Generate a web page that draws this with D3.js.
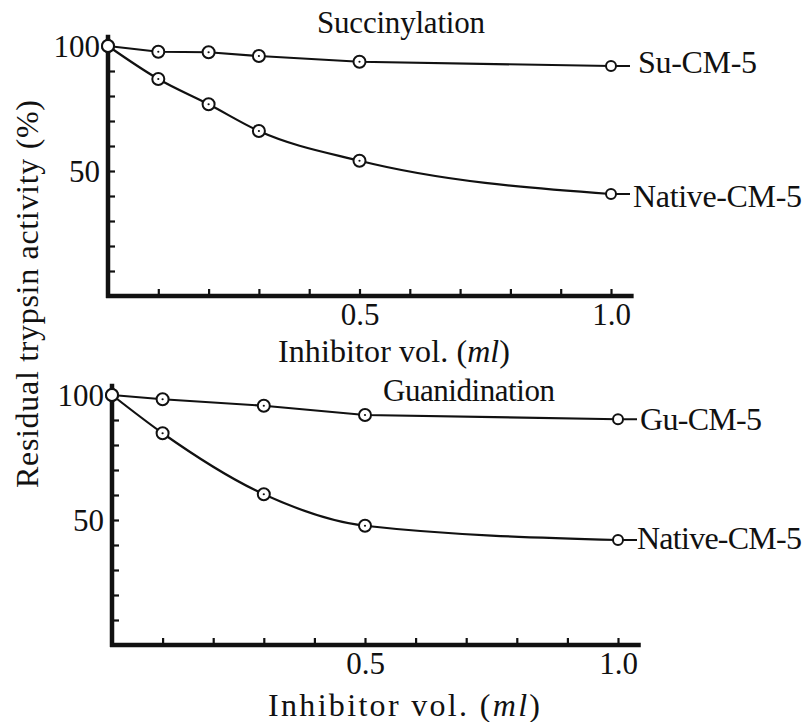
<!DOCTYPE html>
<html>
<head>
<meta charset="utf-8">
<script src="https://cdn.jsdelivr.net/npm/d3@7"></script>
<style>
  body { margin: 0; background: #fff; }
  svg text { font-family: "Liberation Serif", "Times New Roman", Times, serif; fill: #111; }
</style>
</head>
<body>
<div id="wrapper"></div>
<script>
// inhibitor volume (ml)
const succX = [0, 0.1, 0.2, 0.3, 0.5, 1.0];
const suValues = [100, 97.7, 97.5, 96, 93.7, 92];
const nativeSuValues = [100, 86.8, 76.7, 66, 54.1, 40.8];

const guanX = [0, 0.1, 0.3, 0.5, 1.0];
const guValues = [100, 98.3, 95.7, 92, 90.3];
const nativeGuValues = [100, 84.7, 60.3, 47.7, 42];

const xTickLabels = [0.5, 1.0];
const yTickLabels = [50, 100];
const xMinorTicks = d3.range(1, 11).map(d => d / 10);
const yMinorTicks = d3.range(1, 11).map(d => d * 10);

const W = 806, H = 722;
const serif = '"Liberation Serif", "Times New Roman", Times, serif';

let svg = d3.select('#wrapper').append('svg')
  .attr('width', W).attr('height', H)
  .attr('viewBox', '0 0 ' + W + ' ' + H);

function panel(opt) {
  let x = d3.scaleLinear().domain([0, 1]).range(opt.xRange);
  let y = d3.scaleLinear().domain([0, 100]).range(opt.yRange);
  let g = svg.append('g');

  // y ticks (inside), labels only at 50 / 100
  let yAxis = d3.axisLeft(y)
    .tickValues(yMinorTicks)
    .tickSize(-7)
    .tickPadding(8)
    .tickFormat(d => yTickLabels.includes(d) ? d : '');
  let ya = g.append('g').attr('transform', 'translate(' + x(0) + ',0)').call(yAxis);
  ya.attr('font-family', null).attr('font-size', null);
  ya.select('.domain').remove();
  ya.selectAll('line').attr('stroke', '#111').attr('stroke-width', 2.2);
  ya.selectAll('text').style('font-size', '31px').attr('dy', '0.34em')
    .style('font-family', serif);

  let xAxis = d3.axisBottom(x)
    .tickValues(xMinorTicks)
    .tickSize(-7)
    .tickPadding(10)
    .tickFormat(d => xTickLabels.includes(d) ? d.toFixed(1) : '');
  let xa = g.append('g').attr('transform', 'translate(0,' + y(0) + ')').call(xAxis);
  xa.attr('font-family', null).attr('font-size', null);
  xa.select('.domain').remove();
  xa.selectAll('line').attr('stroke', '#111').attr('stroke-width', 2.2);
  xa.selectAll('text').style('font-size', '31px').attr('dy', '0.62em')
    .style('font-family', serif);

  // thick axis lines
  g.append('line')
    .attr('x1', x(0)).attr('x2', x(0))
    .attr('y1', y(0) + 2).attr('y2', y(104.5))
    .attr('stroke', '#111').attr('stroke-width', 4.5);
  g.append('line')
    .attr('x1', x(0) - 2).attr('x2', x(1.045))
    .attr('y1', y(0)).attr('y2', y(0))
    .attr('stroke', '#111').attr('stroke-width', 4.5);

  opt.series.forEach(s => {
    let pts = opt.xs.map((v, i) => [v, s.values[i]]);
    let line = d3.line()
      .x(d => x(d[0])).y(d => y(d[1]))
      .curve(s.smooth ? d3.curveMonotoneX : d3.curveLinear);
    g.append('path').datum(pts)
      .attr('d', line)
      .attr('fill', 'none').attr('stroke', '#111').attr('stroke-width', 2.2);

    g.selectAll(null).data(pts).enter().append('circle')
      .attr('cx', d => x(d[0])).attr('cy', d => y(d[1]))
      .attr('r', (d, i) => i === pts.length - 1 ? 5 : 6)
      .attr('fill', '#fff').attr('stroke', '#111').attr('stroke-width', 2);
    g.selectAll(null).data(pts.slice(1, -1)).enter().append('circle')
      .attr('cx', d => x(d[0])).attr('cy', d => y(d[1]))
      .attr('r', 1.1).attr('fill', '#111');

    let last = pts[pts.length - 1];
    g.append('line')
      .attr('x1', x(last[0]) + 5).attr('x2', x(last[0]) + 19)
      .attr('y1', y(last[1])).attr('y2', y(last[1]))
      .attr('stroke', '#111').attr('stroke-width', 2);
    g.append('text')
      .attr('x', x(last[0]) + s.labelDx)
      .attr('y', y(last[1]) + s.labelDy)
      .attr('textLength', s.labelW).attr('lengthAdjust', 'spacing')
      .style('font-size', '32px')
      .text(s.name);
  });

  g.append('text')
    .attr('x', opt.title[1]).attr('y', opt.title[2])
    .attr('textLength', opt.title[3]).attr('lengthAdjust', 'spacing')
    .style('font-size', '31px')
    .text(opt.title[0]);

  let xl = g.append('text')
    .attr('x', opt.xLabel[0]).attr('y', opt.xLabel[1])
    .attr('textLength', opt.xLabel[2]).attr('lengthAdjust', 'spacing')
    .style('font-size', '32px');
  xl.append('tspan').text('Inhibitor vol. (');
  xl.append('tspan').style('font-style', 'italic').text('ml');
  xl.append('tspan').text(')');
}

panel({
  xRange: [108, 611], yRange: [296, 46], xs: succX,
  title: ['Succinylation', 317, 33, 168],
  xLabel: [278, 362, 232],
  series: [
    { name: 'Su-CM-5', values: suValues, smooth: false, labelDx: 27, labelDy: 7, labelW: 119 },
    { name: 'Native-CM-5', values: nativeSuValues, smooth: true, labelDx: 22, labelDy: 13, labelW: 169 }
  ]
});

panel({
  xRange: [112, 618], yRange: [645, 395], xs: guanX,
  title: ['Guanidination', 383, 401, 172],
  xLabel: [268, 716, 272],
  series: [
    { name: 'Gu-CM-5', values: guValues, smooth: false, labelDx: 22, labelDy: 11, labelW: 122 },
    { name: 'Native-CM-5', values: nativeGuValues, smooth: true, labelDx: 19, labelDy: 9, labelW: 165 }
  ]
});

// shared y-axis title
svg.append('text')
  .attr('transform', 'translate(38,488) rotate(-90)')
  .attr('textLength', 388).attr('lengthAdjust', 'spacing')
  .style('font-size', '32px')
  .text('Residual trypsin activity (%)');
</script>
</body>
</html>
